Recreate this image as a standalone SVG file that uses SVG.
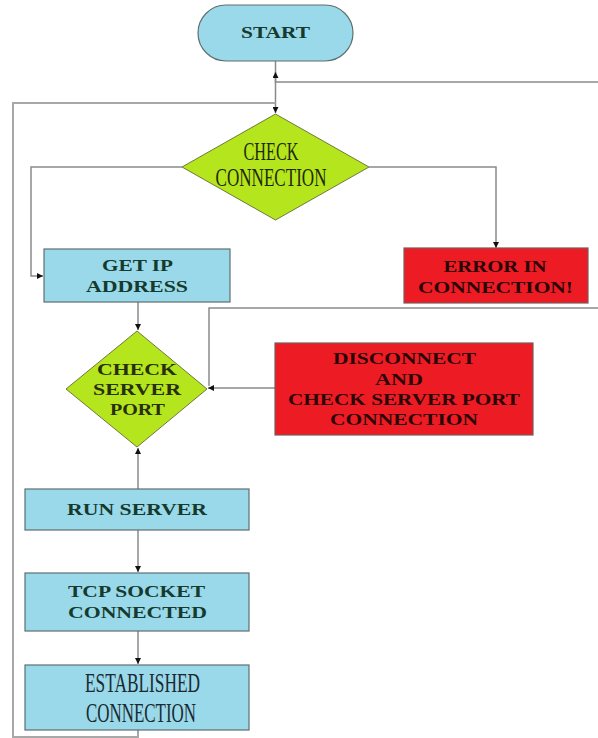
<svg xmlns="http://www.w3.org/2000/svg" width="598" height="738" viewBox="0 0 598 738">
<style>
.bg{fill:#ffffff}
.blue{fill:#99d9ea;stroke:#5f6f70;stroke-width:1.2}
.green{fill:#b5e61d;stroke:#6d7a3a;stroke-width:1}
.red{fill:#ed1c24;stroke:#7a5a5a;stroke-width:1.2}
.conn{fill:none;stroke:#8a8a8a;stroke-width:1.5}
.loop{fill:none;stroke:#a8a8a8;stroke-width:2}
.tb{font-family:"Liberation Serif","Times New Roman",serif;font-weight:bold;font-size:17px;text-anchor:middle;fill:#163a2e}
.tr{font-family:"Liberation Serif","Times New Roman",serif;font-weight:bold;font-size:17px;text-anchor:middle;fill:#2a0606}
.tg{font-family:"Liberation Serif","Times New Roman",serif;font-weight:bold;font-size:17px;text-anchor:middle;fill:#27300a}
.tc{font-family:"Liberation Serif","Times New Roman",serif;font-size:25px;text-anchor:middle}
.te{font-family:"Liberation Serif","Times New Roman",serif;font-size:27px;text-anchor:middle}
</style>
<defs>
<marker id="arr" viewBox="0 0 10 10" refX="10" refY="5" markerWidth="6" markerHeight="6" markerUnits="userSpaceOnUse" orient="auto">
<path d="M0,0 L10,5 L0,10 z" fill="#111"/>
</marker>
</defs>
<rect class="bg" x="0" y="0" width="598" height="738"/>

<g id="connectors">
<path class="conn" d="M275.5,61 V113" marker-end="url(#arr)"/>
<path class="conn" d="M598,82 H275.5 V72" marker-end="url(#arr)"/>
<path class="loop" d="M138,730 V737 H13 V103 H275.5"/>
<path class="conn" d="M182,167 H31 V276 H43" marker-end="url(#arr)"/>
<path class="conn" d="M369,167 H496 V248" marker-end="url(#arr)"/>
<path class="conn" d="M138,302 V330" marker-end="url(#arr)"/>
<path class="conn" d="M598,308 H209 V386"/>
<path class="conn" d="M275,388 H208" marker-end="url(#arr)"/>
<path class="conn" d="M138,489 V448" marker-end="url(#arr)"/>
<path class="conn" d="M138,530 V572" marker-end="url(#arr)"/>
<path class="conn" d="M138,631 V664" marker-end="url(#arr)"/>
</g>

<g id="start">
<rect class="blue" x="198" y="5" width="155" height="56" rx="28" ry="28"/>
<text class="tb" x="275.5" y="38" textLength="69" lengthAdjust="spacingAndGlyphs">START</text>
</g>

<g id="check-connection">
<polygon class="green" points="275.5,114 369,167 275.5,220 182,167"/>
<text class="tc" fill="#1f2a05" x="271" y="159.5" textLength="55" lengthAdjust="spacingAndGlyphs">CHECK</text>
<text class="tc" fill="#1f2a05" x="271" y="185.5" textLength="111" lengthAdjust="spacingAndGlyphs">CONNECTION</text>
</g>

<g id="get-ip">
<rect class="blue" x="44" y="249" width="186" height="53"/>
<text class="tb" x="137.5" y="271" textLength="71" lengthAdjust="spacingAndGlyphs">GET IP</text>
<text class="tb" x="137" y="292" textLength="102" lengthAdjust="spacingAndGlyphs">ADDRESS</text>
</g>

<g id="error">
<rect class="red" x="404" y="248" width="184" height="55"/>
<text class="tr" x="495" y="272" textLength="103" lengthAdjust="spacingAndGlyphs">ERROR IN</text>
<text class="tr" x="495.5" y="292.5" textLength="155" lengthAdjust="spacingAndGlyphs">CONNECTION!</text>
</g>

<g id="check-server-port">
<polygon class="green" points="137,331 207,389 137,447 66,389"/>
<text class="tg" x="137" y="374.5" textLength="80" lengthAdjust="spacingAndGlyphs">CHECK</text>
<text class="tg" x="137" y="395" textLength="88" lengthAdjust="spacingAndGlyphs">SERVER</text>
<text class="tg" x="137.5" y="415" textLength="55" lengthAdjust="spacingAndGlyphs">PORT</text>
</g>

<g id="disconnect">
<rect class="red" x="275" y="343" width="258" height="92"/>
<text class="tr" x="404.5" y="364" textLength="143" lengthAdjust="spacingAndGlyphs">DISCONNECT</text>
<text class="tr" x="399" y="385" textLength="48" lengthAdjust="spacingAndGlyphs">AND</text>
<text class="tr" x="404" y="405" textLength="232" lengthAdjust="spacingAndGlyphs">CHECK SERVER PORT</text>
<text class="tr" x="404" y="425" textLength="148" lengthAdjust="spacingAndGlyphs">CONNECTION</text>
</g>

<g id="run-server">
<rect class="blue" x="25" y="489" width="224" height="41"/>
<text class="tb" x="137" y="515" textLength="140" lengthAdjust="spacingAndGlyphs">RUN SERVER</text>
</g>

<g id="tcp-socket">
<rect class="blue" x="25" y="573" width="224" height="58"/>
<text class="tb" x="136.5" y="597" textLength="137" lengthAdjust="spacingAndGlyphs">TCP SOCKET</text>
<text class="tb" x="137.5" y="617.5" textLength="139" lengthAdjust="spacingAndGlyphs">CONNECTED</text>
</g>

<g id="established">
<rect class="blue" x="25" y="665" width="224" height="65"/>
<text class="te" fill="#1a2a30" x="142.5" y="692" textLength="115" lengthAdjust="spacingAndGlyphs">ESTABLISHED</text>
<text class="te" fill="#1a2a30" x="141" y="721.5" textLength="110" lengthAdjust="spacingAndGlyphs">CONNECTION</text>
</g>
</svg>
